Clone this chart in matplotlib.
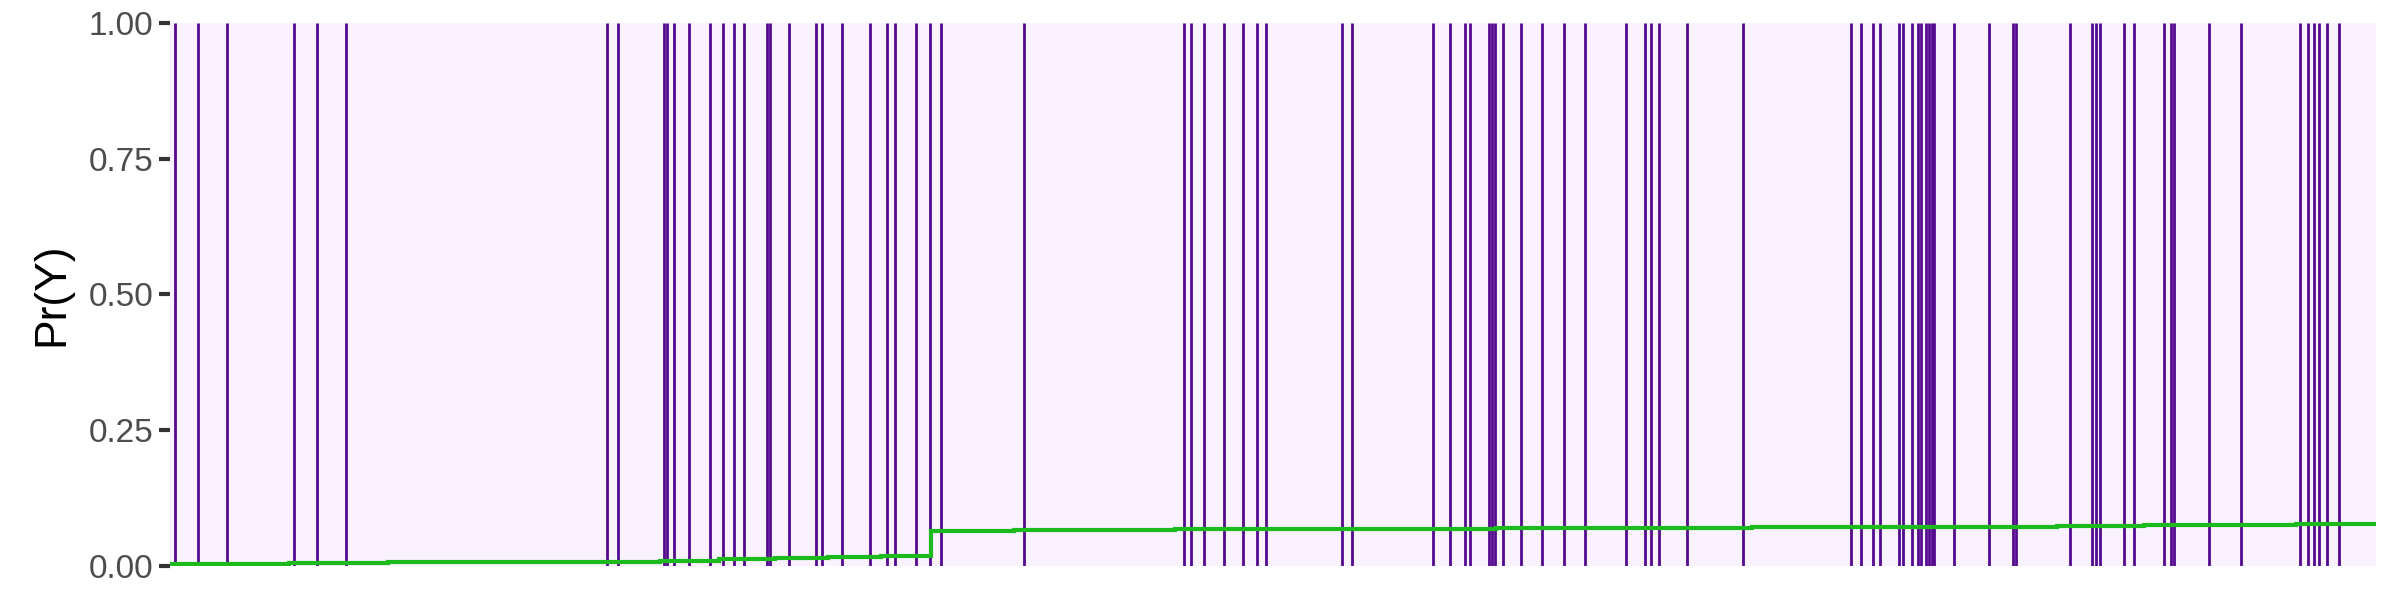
import matplotlib
matplotlib.use("Agg")
import matplotlib.pyplot as plt
import numpy as np

# Event times (arbitrary time units along the unlabeled x axis)
event_times = [5.5, 28.3, 57.1, 124.5, 147.4, 176.3, 437.5, 447.8, 494.3, 497,
               504.4, 519.5, 540.5, 553.3, 564.4, 574.4, 597.5, 600, 619.3, 646.1,
               652.3, 671.9, 700.1, 717.3, 725.5, 746.2, 760, 771.5, 854.2, 1014.9,
               1021.9, 1034, 1054.1, 1073, 1087.3, 1096, 1172.9, 1182.1, 1263.1, 1280.2,
               1295.1, 1301, 1320, 1322.5, 1325.5, 1333.2, 1351.7, 1372.8, 1395, 1415.2,
               1456.5, 1476, 1481.2, 1489.5, 1517.2, 1573.5, 1682, 1691.5, 1703.5, 1710.5,
               1729.5, 1733.6, 1742.5, 1749.2, 1751.6, 1756.5, 1759.5, 1762.5, 1765, 1784.5,
               1819.7, 1843.5, 1846.5, 1900.5, 1923.3, 1926.8, 1931.1, 1954.6, 1964.7, 1994.6,
               2002, 2004.8, 2039.5, 2071.6, 2131.3, 2138.6, 2145, 2150.4, 2158.3, 2170.2]

# Step curve of Pr(Y)
step_times = [0, 119, 218, 434.5, 490, 549, 605.6, 658, 711, 761, 844, 924.5,
              1005, 1170, 1327, 1497, 1583, 1668, 1888, 1975, 2127]
step_probs = [0.0037, 0.0061, 0.0065, 0.0075, 0.009, 0.012, 0.015, 0.0168, 0.018,
              0.064, 0.0655, 0.067, 0.0676, 0.0688, 0.0694, 0.0705, 0.0717, 0.0723,
              0.0735, 0.0755, 0.0765]
t_end = 2207

y_ticks = [0.0, 0.25, 0.5, 0.75, 1.0]
y_tick_labels = ["0.00", "0.25", "0.50", "0.75", "1.00"]

plt.rcParams['font.family'] = ['Liberation Sans', 'DejaVu Sans']

fig = plt.figure(figsize=(24, 6), dpi=100)
ax = fig.add_axes([170/2400, 34/600, (2376-170)/2400, (566-22.7)/600])
ax.set_facecolor("#FAF2FE")

ax.vlines(event_times, 0, 1, colors="#55098F", linewidth=2.0, zorder=2)

xs = list(step_times) + [t_end]
ys = list(step_probs) + [step_probs[-1]]
ax.step(xs, ys, where="post", color="#1DBA1D", linewidth=3.0, zorder=3,
        solid_joinstyle="miter")

ax.set_xlim(0, t_end)
ax.set_ylim(0, 1)
ax.set_xticks([])
ax.set_yticks(y_ticks)
ax.set_yticklabels(y_tick_labels)
ax.tick_params(axis="y", length=8, width=3, color="#333333", labelsize=24,
               labelcolor="#4D4D4D", pad=4)
for s in ax.spines.values():
    s.set_visible(False)
ax.set_ylabel("Pr(Y)", fontsize=32, color="black", labelpad=12)

fig.savefig("out.png", dpi=100, facecolor="white")
